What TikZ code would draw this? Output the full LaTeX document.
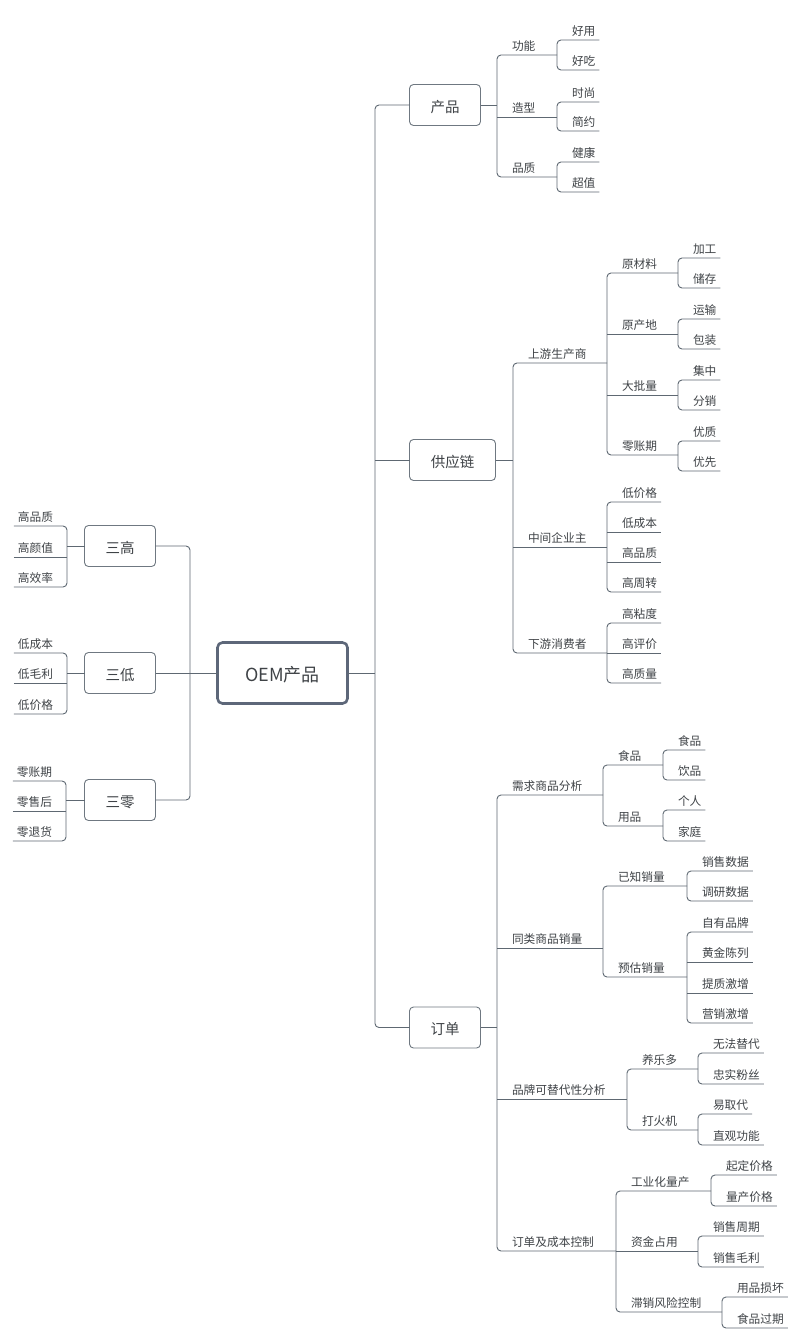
\documentclass[tikz,border=0pt]{standalone}
\usepackage{fontspec}
\setmainfont{Noto Sans CJK SC}
\definecolor{linec}{HTML}{5E6872}
\definecolor{txtc}{HTML}{3F4347}
\definecolor{boxc}{HTML}{6F7881}
\definecolor{rootc}{HTML}{5D6779}
\tikzset{
  conn/.style={draw=linec, line width=0.9pt, rounded corners=4pt},
  lbl/.style={anchor=south west, inner sep=0pt, outer sep=0pt, text=txtc,
    font=\fontsize{11.7}{12}\selectfont, text height=9pt, text depth=5pt,
    execute at begin node={\hspace*{15pt}}, execute at end node={\hspace*{4pt}}},
  lblL/.style={anchor=south east, inner sep=0pt, outer sep=0pt, text=txtc,
    font=\fontsize{11.7}{12}\selectfont, text height=9pt, text depth=5pt,
    execute at begin node={\hspace*{4pt}}, execute at end node={\hspace*{14pt}}},
  topic/.style={draw=boxc, line width=0.9pt, rounded corners=4pt, fill=white,
    text=txtc, font=\fontsize{14.5}{16}\selectfont, inner sep=0pt, outer sep=0pt,
    text height=14pt, text depth=0pt, minimum height=41pt, minimum width=71pt},
  rootbox/.style={draw=rootc, line width=2.6pt, rounded corners=5pt, fill=white,
    text=txtc, font=\fontsize{18}{20}\selectfont, inner sep=0pt, outer sep=0pt,
    text height=17.5pt, text depth=0pt, minimum height=61pt, minimum width=130pt}
}
\begin{document}
\begin{tikzpicture}[x=1pt, y=-1pt]
\fill[white] (0,0) rectangle (798,1344);
\useasboundingbox (0,0) rectangle (798,1344);

% ---------- boxes ----------
\node[rootbox] (root) at (282.5,673) {OEM产品};
\node[topic] (p) at (445,105) {产品};
\node[topic, minimum width=86pt] (s) at (452.5,460) {供应链};
\node[topic] (o) at (445,1027.5) {订单};
\node[topic] (h) at (120,546) {三高};
\node[topic] (l) at (120,673) {三低};
\node[topic] (z) at (120,800) {三零};

\coordinate (sp) at (375,673);
\coordinate (lb) at (190,673);

% ---------- product ----------
\node[lbl] (p1) at (497,55) {功能};
\node[lbl] (p2) at (497,117) {造型};
\node[lbl] (p3) at (497,177) {品质};
\node[lbl] (p11) at (557,40) {好用};
\node[lbl] (p12) at (557,70) {好吃};
\node[lbl] (p21) at (557,102) {时尚};
\node[lbl] (p22) at (557,131) {简约};
\node[lbl] (p31) at (557,162) {健康};
\node[lbl] (p32) at (557,192) {超值};

% ---------- supply chain ----------
\node[lbl] (s1) at (513,363) {上游生产商};
\node[lbl] (s2) at (513,547) {中间企业主};
\node[lbl] (s3) at (513,653) {下游消费者};
\node[lbl] (s11) at (607,273) {原材料};
\node[lbl] (s12) at (607,334) {原产地};
\node[lbl] (s13) at (607,395) {大批量};
\node[lbl] (s14) at (607,455) {零账期};
\node[lbl] (s111) at (678,258) {加工};
\node[lbl] (s112) at (678,288) {储存};
\node[lbl] (s121) at (678,319) {运输};
\node[lbl] (s122) at (678,349) {包装};
\node[lbl] (s131) at (678,380) {集中};
\node[lbl] (s132) at (678,410) {分销};
\node[lbl] (s141) at (678,441) {优质};
\node[lbl] (s142) at (678,471) {优先};
\node[lbl] (s21) at (607,502) {低价格};
\node[lbl] (s22) at (607,532) {低成本};
\node[lbl] (s23) at (607,562) {高品质};
\node[lbl] (s24) at (607,592) {高周转};
\node[lbl] (s31) at (607,623) {高粘度};
\node[lbl] (s32) at (607,653) {高评价};
\node[lbl] (s33) at (607,683) {高质量};

% ---------- order ----------
\node[lbl] (o1) at (497,795) {需求商品分析};
\node[lbl] (o2) at (497,948) {同类商品销量};
\node[lbl] (o3) at (497,1099) {品牌可替代性分析};
\node[lbl] (o4) at (497,1251) {订单及成本控制};
\node[lbl] (o11) at (603,765) {食品};
\node[lbl] (o12) at (603,826) {用品};
\node[lbl] (o111) at (663,750) {食品};
\node[lbl] (o112) at (663,780) {饮品};
\node[lbl] (o121) at (663,810) {个人};
\node[lbl] (o122) at (663,841) {家庭};
\node[lbl] (o21) at (603,886) {已知销量};
\node[lbl] (o22) at (603,977) {预估销量};
\node[lbl] (o211) at (687,871) {销售数据};
\node[lbl] (o212) at (687,901) {调研数据};
\node[lbl] (o221) at (687,932) {自有品牌};
\node[lbl] (o222) at (687,962) {黄金陈列};
\node[lbl] (o223) at (687,993) {提质激增};
\node[lbl] (o224) at (687,1023) {营销激增};
\node[lbl] (o31) at (627,1069) {养乐多};
\node[lbl] (o32) at (627,1130) {打火机};
\node[lbl] (o311) at (698,1053) {无法替代};
\node[lbl] (o312) at (698,1084) {忠实粉丝};
\node[lbl] (o321) at (698,1114) {易取代};
\node[lbl] (o322) at (698,1145) {直观功能};
\node[lbl] (o41) at (616,1191) {工业化量产};
\node[lbl] (o42) at (616,1251) {资金占用};
\node[lbl] (o43) at (616,1312) {滞销风险控制};
\node[lbl] (o411) at (711,1175) {起定价格};
\node[lbl] (o412) at (711,1206) {量产价格};
\node[lbl] (o421) at (698,1236) {销售周期};
\node[lbl] (o422) at (698,1267) {销售毛利};
\node[lbl] (o431) at (722,1297) {用品损坏};
\node[lbl] (o432) at (722,1328) {食品过期};

% ---------- left ----------
\node[lblL] (h1) at (67,526) {高品质};
\node[lblL] (h2) at (67,557) {高颜值};
\node[lblL] (h3) at (67,587) {高效率};
\node[lblL] (l1) at (67,653) {低成本};
\node[lblL] (l2) at (67,683) {低毛利};
\node[lblL] (l3) at (67,714) {低价格};
\node[lblL] (z1) at (66,781) {零账期};
\node[lblL] (z2) at (66,811) {零售后};
\node[lblL] (z3) at (66,841) {零退货};

% ================= connectors =================
% spine
\draw[conn] (p.west) -- (p.west -| sp) -- (o.west -| sp) -- (o.west);
\draw[conn] (root.east) -- (sp);
\draw[conn] (s.west -| sp) -- (s.west);

% product
\draw[conn] (p.east) -- (p.east -| p1.west);
\draw[conn] (p11.south west |- p1.south) -- (p1.south west) -- (p3.south west) -- (p31.south west |- p3.south);
\draw[conn] (p2.south west) -- (p21.south west |- p2.south);
\draw[conn] (p11.south east) -- (p11.south west) -- (p12.south west) -- (p12.south east);
\draw[conn] (p21.south east) -- (p21.south west) -- (p22.south west) -- (p22.south east);
\draw[conn] (p31.south east) -- (p31.south west) -- (p32.south west) -- (p32.south east);

% supply chain
\draw[conn] (s.east) -- (s.east -| s1.west);
\draw[conn] (s11.south west |- s1.south) -- (s1.south west) -- (s3.south west) -- (s31.south west |- s3.south);
\draw[conn] (s2.south west) -- (s21.south west |- s2.south);
\draw[conn] (s111.south west |- s11.south) -- (s11.south west) -- (s14.south west) -- (s141.south west |- s14.south);
\draw[conn] (s12.south west) -- (s121.south west |- s12.south);
\draw[conn] (s13.south west) -- (s131.south west |- s13.south);
\draw[conn] (s111.south east) -- (s111.south west) -- (s112.south west) -- (s112.south east);
\draw[conn] (s121.south east) -- (s121.south west) -- (s122.south west) -- (s122.south east);
\draw[conn] (s131.south east) -- (s131.south west) -- (s132.south west) -- (s132.south east);
\draw[conn] (s141.south east) -- (s141.south west) -- (s142.south west) -- (s142.south east);
\draw[conn] (s21.south east) -- (s21.south west) -- (s24.south west) -- (s24.south east);
\draw[conn] (s22.south west) -- (s22.south east);
\draw[conn] (s23.south west) -- (s23.south east);
\draw[conn] (s31.south east) -- (s31.south west) -- (s33.south west) -- (s33.south east);
\draw[conn] (s32.south west) -- (s32.south east);

% order
\draw[conn] (o.east) -- (o.east -| o1.west);
\draw[conn] (o11.south west |- o1.south) -- (o1.south west) -- (o4.south west) -- (o41.south west |- o4.south);
\draw[conn] (o2.south west) -- (o21.south west |- o2.south);
\draw[conn] (o3.south west) -- (o31.south west |- o3.south);
\draw[conn] (o111.south west |- o11.south) -- (o11.south west) -- (o12.south west) -- (o121.south west |- o12.south);
\draw[conn] (o111.south east) -- (o111.south west) -- (o112.south west) -- (o112.south east);
\draw[conn] (o121.south east) -- (o121.south west) -- (o122.south west) -- (o122.south east);
\draw[conn] (o211.south west |- o21.south) -- (o21.south west) -- (o22.south west) -- (o221.south west |- o22.south);
\draw[conn] (o211.south east) -- (o211.south west) -- (o212.south west) -- (o212.south east);
\draw[conn] (o221.south east) -- (o221.south west) -- (o224.south west) -- (o224.south east);
\draw[conn] (o222.south west) -- (o222.south east);
\draw[conn] (o223.south west) -- (o223.south east);
\draw[conn] (o311.south west |- o31.south) -- (o31.south west) -- (o32.south west) -- (o321.south west |- o32.south);
\draw[conn] (o311.south east) -- (o311.south west) -- (o312.south west) -- (o312.south east);
\draw[conn] (o321.south east) -- (o321.south west) -- (o322.south west) -- (o322.south east);
\draw[conn] (o411.south west |- o41.south) -- (o41.south west) -- (o43.south west) -- (o431.south west |- o43.south);
\draw[conn] (o42.south west) -- (o421.south west |- o42.south);
\draw[conn] (o411.south east) -- (o411.south west) -- (o412.south west) -- (o412.south east);
\draw[conn] (o421.south east) -- (o421.south west) -- (o422.south west) -- (o422.south east);
\draw[conn] (o431.south east) -- (o431.south west) -- (o432.south west) -- (o432.south east);

% left side
\draw[conn] (root.west) -- (l.east);
\draw[conn] (h.east) -- (h.east -| lb) -- (z.east -| lb) -- (z.east);
\draw[conn] (h.west) -- (h.west -| h1.east);
\draw[conn] (h1.south west) -- (h1.south east) -- (h3.south east) -- (h3.south west);
\draw[conn] (h2.south west) -- (h2.south east);
\draw[conn] (l.west) -- (l.west -| l1.east);
\draw[conn] (l1.south west) -- (l1.south east) -- (l3.south east) -- (l3.south west);
\draw[conn] (l2.south west) -- (l2.south east);
\draw[conn] (z.west) -- (z.west -| z1.east);
\draw[conn] (z1.south west) -- (z1.south east) -- (z3.south east) -- (z3.south west);
\draw[conn] (z2.south west) -- (z2.south east);
\end{tikzpicture}
\end{document}
